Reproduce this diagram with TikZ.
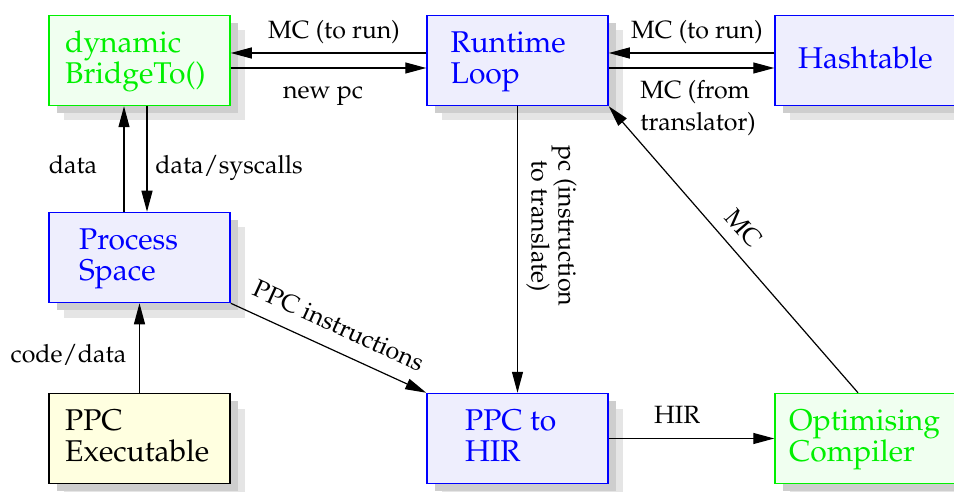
\documentclass[tikz,border=0pt]{standalone}
\usepackage[T1]{fontenc}
\usepackage{mathpazo}
\usetikzlibrary{arrows.meta,shadows}
\definecolor{bbord}{RGB}{0,0,255}
\definecolor{bfill}{RGB}{238,238,253}
\definecolor{gbord}{RGB}{0,240,0}
\definecolor{gfill}{RGB}{240,255,240}
\definecolor{yfill}{RGB}{255,255,224}
\definecolor{shdark}{RGB}{206,206,206}
\definecolor{shlight}{RGB}{229,229,229}
\begin{document}
\begin{tikzpicture}[x=1pt,y=-1pt,
  box/.style={rectangle, minimum width=181pt, minimum height=90pt, inner sep=0pt, line width=1.5pt,
    general shadow={fill=shlight, shadow xshift=15pt, shadow yshift=-15pt},
    general shadow={fill=shdark, shadow xshift=7.5pt, shadow yshift=-7.5pt}},
  bluebox/.style={box, draw=bbord, fill=bfill},
  greenbox/.style={box, draw=gbord, fill=gfill},
  yellowbox/.style={box, draw=black, fill=yfill},
  boxtext/.style={anchor=base west, align=left, inner sep=0pt, font=\fontsize{30}{31}\selectfont},
  lbl/.style={font=\fontsize{25}{32}\selectfont, inner sep=0pt, text=black},
  arr/.style={line width=1.2pt, -{Triangle[length=21pt,width=11pt]}}]
\useasboundingbox (0,0) rectangle (954,492);
\clip (0,0) rectangle (954,492);
% boxes
\node[greenbox]  (dyn)  at (139.5,60.5)  {};
\node[bluebox]   (run)  at (517.5,60.5)  {};
\node[bluebox]   (hash) at (865.5,60.5)  {};
\node[bluebox]   (proc) at (139.5,257.5) {};
\node[yellowbox] (exe)  at (139.5,438.5) {};
\node[bluebox]   (hir)  at (517.5,438.5) {};
\node[greenbox]  (opt)  at (865.5,438.5) {};
% box texts (anchor = baseline of the last line)
\node[boxtext, text=gbord] (dyn-t)  at (65,83.8)    {dynamic\\BridgeTo()};
\node[boxtext, text=bbord] (run-t)  at (450.5,83.8) {Runtime\\Loop};
\node[boxtext, text=bbord] (hash-t) at (798,68.5)   {Hashtable};
\node[boxtext, text=bbord] (proc-t) at (79,280.5)   {Process\\Space};
\node[boxtext, text=black] (exe-t)  at (65,461.7)   {PPC\\Executable};
\node[boxtext, text=bbord] (hir-t)  at (465,461.7)  {PPC to\\HIR};
\node[boxtext, text=gbord] (opt-t)  at (789,461.7)  {Optimising\\Compiler};
% connectors
\draw[arr] ([yshift=7.5pt]run.west) -- ([yshift=7.5pt]dyn.east)
  node[lbl, pos=0.472, anchor=base, yshift=14pt] {MC (to run)};
\draw[arr] ([yshift=-7.5pt]dyn.east) -- ([yshift=-7.5pt]run.west)
  node[lbl, pos=0.472, anchor=base, yshift=-31pt] {new pc};
\draw[arr] ([yshift=7.5pt]hash.west) -- ([yshift=7.5pt]run.east)
  node[lbl, pos=0.467, anchor=base, yshift=14pt] {MC (to run)};
\draw[arr] ([yshift=-7.5pt]run.east) -- ([yshift=-7.5pt]hash.west)
  node[lbl, pos=0, anchor=base west, align=left, xshift=31pt, yshift=-63pt] {MC (from\\translator)};
\draw[arr] ([xshift=-15.5pt]proc.north) -- ([xshift=-15.5pt]dyn.south)
  node[lbl, pos=0.358, anchor=base, xshift=-51pt] {data};
\draw[arr] ([xshift=7.5pt]dyn.south) -- ([xshift=7.5pt]proc.north)
  node[lbl, pos=0.642, anchor=base, xshift=82pt] {data/syscalls};
\draw[arr] (exe.north) -- (proc.south)
  node[lbl, pos=0.333, anchor=base, xshift=-71pt] {code/data};
\draw[arr] (run.south) -- (hir.north)
  node[lbl, pos=0.418, xshift=34pt, rotate=-90, align=center, font=\fontsize{25}{27}\selectfont] {pc (instruction\\to translate)};
\draw[arr] (proc.south east) -- (hir.north west)
  node[lbl, pos=0.5, sloped, above=15pt] {PPC instructions};
\draw[arr] (hir.east) -- (opt.west)
  node[lbl, pos=0.413, anchor=base, yshift=15pt] {HIR};
\draw[arr] ([xshift=-7.5pt]opt.north) -- (run.south east)
  node[lbl, pos=0.525, sloped, above=12pt] {MC};
\end{tikzpicture}
\end{document}
